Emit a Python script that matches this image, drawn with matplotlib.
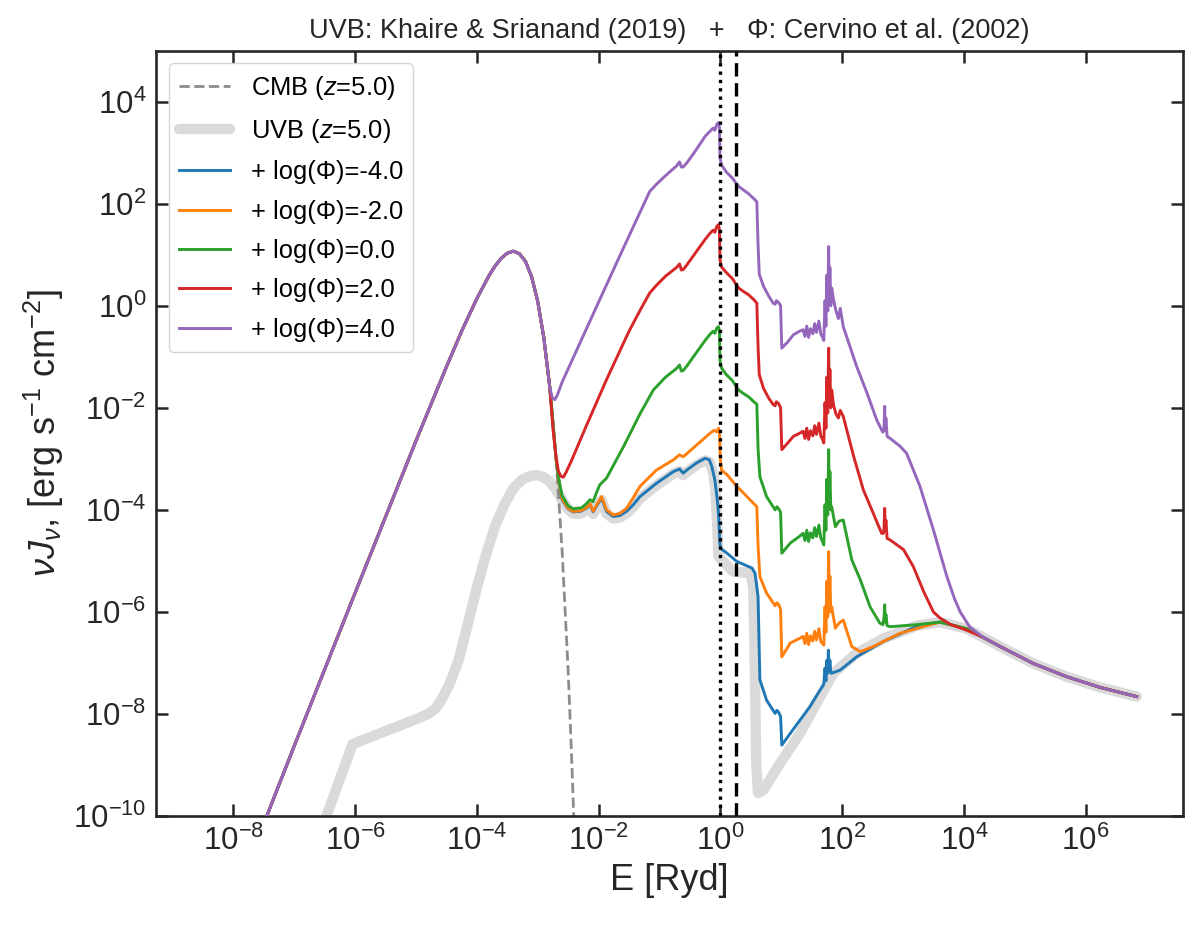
import numpy as np
import matplotlib
matplotlib.use('Agg')
import matplotlib.pyplot as plt
from matplotlib.ticker import NullLocator

plt.rcParams['font.family'] = ['Liberation Sans', 'DejaVu Sans']
plt.rcParams['mathtext.fontset'] = 'custom'
plt.rcParams['mathtext.rm'] = 'Liberation Sans'
plt.rcParams['mathtext.it'] = 'Liberation Sans:italic'
plt.rcParams['mathtext.bf'] = 'Liberation Sans:bold'

# ---------------- data (log10 E [Ryd], log10 nuJnu) ----------------
CMB_LOGE = [-8.5, -7.45, -7.0, -6.0, -5.5, -5.0, -4.5, -4.25, -4.0, -3.8, -3.7, -3.6,
            -3.5, -3.4, -3.3, -3.2, -3.1, -3.0, -2.9, -2.8, -2.7, -2.6, -2.5, -2.45, -2.4]
CMB_LOGY = [-13.14, -10.0, -8.63, -5.63, -4.14, -2.65, -1.20, -0.50, 0.14, 0.59, 0.78, 0.93,
            1.03, 1.07, 1.02, 0.87, 0.57, 0.09, -0.62, -1.61, -2.97, -4.77, -7.14, -8.61, -10.26]

UVB_LOGE = [-6.8, -6.47, -6.04, -4.95, -4.8, -4.68, -4.58, -4.45, -4.3, -4.15, -4.0, -3.85,
            -3.7, -3.55, -3.4, -3.25, -3.1, -3.0, -2.9, -2.8, -2.7, -2.6, -2.5, -2.42, -2.31,
            -2.2, -2.14, -2.09, -2.03, -1.95, -1.87, -1.76, -1.65, -1.54, -1.43, -1.32, -1.05,
            -0.77, -0.67, -0.61, -0.55, -0.39, -0.25, -0.18, -0.12, -0.08, -0.05, -0.03, 0.0,
            0.21, 0.49, 0.54, 0.56, 0.57, 0.59, 0.62, 0.71, 0.98, 1.31, 1.58, 1.86, 2.24, 2.68,
            3.23, 3.61, 4.05]
UVB_LOGY = [-11.1, -10.0, -8.59, -8.08, -8.0, -7.9, -7.72, -7.42, -6.95, -6.25, -5.53, -4.88,
            -4.32, -3.90, -3.58, -3.40, -3.33, -3.32, -3.36, -3.45, -3.60, -3.80, -3.99, -4.07,
            -4.08, -4.01, -3.94, -4.08, -3.96, -3.81, -4.07, -4.17, -4.15, -4.07, -3.94, -3.78,
            -3.52, -3.29, -3.24, -3.32, -3.26, -3.12, -3.03, -3.06, -3.25, -3.6, -4.3, -4.9,
            -4.95, -5.21, -5.24, -5.50, -6.5, -7.33, -8.97, -9.55, -9.49, -8.97, -8.38, -7.79,
            -7.20, -6.81, -6.52, -6.27, -6.20, -6.33]

TAIL_LOGE = [4.60, 5.14, 5.69, 6.24, 6.84]
TAIL_LOGY = [-6.68, -7.01, -7.27, -7.48, -7.66]

# log(Phi) = -4 (departs from CMB at log E = -2.7)
P_M4_LOGE = [-2.66, -2.6, -2.5, -2.42, -2.30, -2.2, -2.14, -2.09, -2.03, -1.95, -1.87, -1.76,
             -1.65, -1.54, -1.43, -1.32, -1.05, -0.77, -0.67, -0.61, -0.55, -0.39, -0.25, -0.18,
             -0.14, -0.09, -0.05, -0.03, -0.01, 0.0, 0.11, 0.27, 0.46, 0.52, 0.57, 0.62, 0.65,
             0.76, 0.90, 0.93, 0.96, 0.99, 1.01, 1.15, 1.31, 1.47, 1.64, 1.70, 1.72, 1.735,
             1.75, 1.765, 1.775, 1.79, 1.80, 1.815, 1.83, 1.97, 2.24, 2.68, 3.23, 3.61, 4.05]
P_M4_LOGY = [-3.40, -3.80, -3.98, -4.04, -4.03, -3.97, -3.90, -4.04, -3.92, -3.77, -4.03, -4.13,
             -4.11, -4.03, -3.90, -3.74, -3.48, -3.25, -3.20, -3.28, -3.22, -3.08, -2.99, -3.02,
             -3.15, -3.41, -3.8, -4.06, -4.6, -4.75, -4.85, -5.01, -5.11, -5.14, -5.24, -5.70, -7.33,
             -7.73, -7.99, -7.93, -7.97, -8.05, -8.61, -8.38, -8.12, -7.86, -7.53, -7.42, -7.1, -7.35,
             -6.95, -7.2, -6.75, -7.15, -6.95, -7.2, -7.20, -7.14, -6.88, -6.58, -6.28, -6.20, -6.33]

# log(Phi) = -2
P_M2_LOGE = [-2.66, -2.6, -2.5, -2.42, -2.30, -2.2, -2.14, -2.09, -2.03, -1.95, -1.87, -1.76,
             -1.65, -1.54, -1.43, -1.32, -1.05, -0.77, -0.67, -0.61, -0.55, -0.39, -0.17, -0.1,
             -0.06, -0.03, -0.015, 0.0, 0.02, 0.11, 0.27, 0.38, 0.60, 0.62, 0.65, 0.76, 0.90,
             0.93, 0.96, 0.99, 1.01, 1.15, 1.3, 1.36, 1.39, 1.42, 1.45, 1.48, 1.52, 1.55, 1.58,
             1.62, 1.65, 1.68, 1.70, 1.72, 1.735, 1.75, 1.765, 1.78, 1.79, 1.80, 1.815, 1.83,
             1.89, 1.95, 2.02, 2.16, 2.30, 2.51, 2.95, 3.39, 3.61, 4.05]
P_M2_LOGY = [-3.38, -3.78, -3.97, -4.03, -4.02, -3.96, -3.88, -4.03, -3.90, -3.74, -4.0, -4.10,
             -4.07, -3.97, -3.76, -3.54, -3.22, -3.02, -2.92, -2.96, -2.90, -2.73, -2.50, -2.44,
             -2.47, -2.40, -2.48, -3.0, -3.22, -3.31, -3.54, -3.67, -3.94, -4.7, -5.31, -5.63, -5.88,
             -5.82, -5.86, -5.95, -6.88, -6.61, -6.52, -6.48, -6.62, -6.42, -6.64, -6.47, -6.57,
             -6.38, -6.55, -6.33, -6.58, -6.62, -6.65, -5.9, -6.4, -5.4, -6.1, -4.82, -5.8, -5.3,
             -6.0, -5.90, -6.32, -6.22, -6.16, -6.68, -6.78, -6.68, -6.42, -6.27, -6.20, -6.33]

# log(Phi) = 0
P_0_LOGE = [-2.66, -2.6, -2.5, -2.42, -2.28, -2.2, -2.14, -2.09, -2.03, -1.98, -1.87, -1.59,
            -1.32, -1.1, -0.9, -0.72, -0.67, -0.64, -0.61, -0.55, -0.4, -0.25, -0.17, -0.12,
            -0.09, -0.06, -0.03, -0.015, -0.005, 0.02, 0.1, 0.2, 0.26, 0.30, 0.38, 0.46, 0.55,
            0.60, 0.62, 0.65, 0.76, 0.90, 0.93, 0.96, 0.99, 1.01, 1.15, 1.3, 1.36, 1.39, 1.42,
            1.45, 1.48, 1.52, 1.55, 1.58, 1.62, 1.65, 1.68, 1.70, 1.72, 1.735, 1.75, 1.765,
            1.78, 1.79, 1.80, 1.815, 1.83, 1.89, 1.95, 2.02, 2.16, 2.30, 2.46, 2.62, 2.67,
            2.69, 2.70, 2.71, 2.72, 2.74, 2.79, 3.23, 3.61, 4.05]
P_0_LOGY = [-3.35, -3.72, -3.92, -3.98, -3.96, -3.88, -3.80, -3.84, -3.65, -3.51, -3.38, -2.76,
            -2.12, -1.65, -1.40, -1.23, -1.16, -1.28, -1.27, -1.18, -0.93, -0.68, -0.56, -0.50,
            -0.54, -0.44, -0.41, -0.48, -1.08, -1.22, -1.35, -1.47, -1.58, -1.65, -1.72, -1.78,
            -1.88, -1.93, -2.8, -3.35, -3.74, -4.0, -3.94, -3.98, -4.05, -4.85, -4.65, -4.52,
            -4.46, -4.60, -4.40, -4.62, -4.45, -4.55, -4.35, -4.52, -4.30, -4.55, -4.62, -4.69,
            -3.9, -4.4, -3.4, -4.1, -2.82, -3.8, -3.25, -4.0, -3.94, -4.33, -4.22, -4.20, -4.98,
            -5.37, -5.90, -6.22, -6.25, -6.1, -5.86, -6.2, -6.05, -6.27, -6.29, -6.25, -6.20, -6.33]

# log(Phi) = 2 (departs from CMB at log E = -2.8)
P_2_LOGE = [-2.75, -2.70, -2.66, -2.62, -2.58, -2.54, -2.45, -2.2, -1.87, -1.5, -1.3, -1.16,
            -1.05, -0.9, -0.72, -0.67, -0.64, -0.61, -0.55, -0.4, -0.25, -0.17, -0.12, -0.09,
            -0.06, -0.03, -0.015, -0.005, 0.02, 0.1, 0.2, 0.26, 0.30, 0.38, 0.46, 0.55, 0.60,
            0.62, 0.64, 0.71, 0.80, 0.87, 0.90, 0.92, 0.96, 0.99, 1.01, 1.1, 1.2, 1.3, 1.36,
            1.39, 1.42, 1.45, 1.48, 1.52, 1.55, 1.58, 1.62, 1.65, 1.68, 1.70, 1.72, 1.735, 1.75,
            1.765, 1.78, 1.79, 1.80, 1.815, 1.83, 1.86, 1.90, 1.94, 1.97, 2.02, 2.19, 2.35,
            2.51, 2.65, 2.68, 2.69, 2.70, 2.71, 2.72, 2.74, 2.79, 3.01, 3.17, 3.34, 3.50, 3.61,
            3.77, 4.05, 4.32]
P_2_LOGY = [-2.4, -2.95, -3.24, -3.34, -3.36, -3.28, -3.05, -2.35, -1.45, -0.5, -0.05, 0.25,
            0.40, 0.58, 0.75, 0.82, 0.70, 0.71, 0.80, 1.05, 1.30, 1.42, 1.48, 1.44, 1.55, 1.59,
            1.50, 0.90, 0.76, 0.65, 0.53, 0.42, 0.35, 0.28, 0.22, 0.12, 0.05, -0.8, -1.35,
            -1.62, -1.82, -1.94, -1.96, -1.88, -1.92, -2.0, -2.82, -2.70, -2.56, -2.50, -2.46,
            -2.60, -2.40, -2.62, -2.45, -2.55, -2.35, -2.52, -2.30, -2.55, -2.62, -2.69, -1.9,
            -2.4, -1.4, -2.1, -0.83, -1.8, -1.25, -2.0, -1.65, -1.95, -2.12, -2.2, -2.05, -2.17,
            -2.95, -3.61, -4.06, -4.46, -4.46, -4.35, -3.97, -4.40, -4.2, -4.56, -4.59, -4.78,
            -5.11, -5.6, -6.0, -6.12, -6.24, -6.36, -6.50]

# log(Phi) = 4 (departs from CMB at log E = -2.8)
P_4_LOGE = [-2.76, -2.72, -2.68, -2.6, -2.0, -1.6, -1.3, -1.16, -1.05, -0.9, -0.72, -0.67,
            -0.64, -0.61, -0.55, -0.4, -0.25, -0.17, -0.12, -0.09, -0.06, -0.03, -0.015, -0.005,
            0.02, 0.1, 0.2, 0.26, 0.30, 0.38, 0.46, 0.55, 0.60, 0.62, 0.64, 0.71, 0.80, 0.87,
            0.90, 0.92, 0.96, 0.99, 1.01, 1.1, 1.2, 1.3, 1.36, 1.39, 1.42, 1.45, 1.48, 1.52,
            1.55, 1.58, 1.62, 1.65, 1.68, 1.70, 1.72, 1.735, 1.75, 1.765, 1.78, 1.79, 1.80,
            1.815, 1.83, 1.86, 1.90, 1.94, 1.97, 2.02, 2.24, 2.41, 2.57, 2.67, 2.69, 2.70, 2.71,
            2.72, 2.74, 2.79, 2.95, 3.06, 3.28, 3.50, 3.72, 3.85, 3.94, 4.10, 4.32]
P_4_LOGY = [-1.80, -1.84, -1.76, -1.5, 0.07, 1.11, 1.88, 2.24, 2.38, 2.55, 2.74, 2.82,
            2.72, 2.72, 2.80, 3.05, 3.32, 3.42, 3.48, 3.44, 3.55, 3.59, 3.50, 2.90,
            2.76, 2.62, 2.50, 2.40, 2.34, 2.27, 2.20, 2.10, 2.04, 1.2, 0.62, 0.38, 0.18, 0.05,
            0.03, 0.10, 0.06, 0.0, -0.83, -0.72, -0.57, -0.50, -0.47, -0.60, -0.40, -0.62, -0.45,
            -0.55, -0.35, -0.52, -0.30, -0.55, -0.62, -0.68, 0.1, -0.4, 0.6, -0.1, 1.16, 0.2,
            0.75, 0.0, 0.35, 0.12, -0.10, -0.25, -0.05, -0.41, -1.19, -1.71, -2.24, -2.48, -2.40,
            -1.97, -2.45, -2.2, -2.56, -2.60, -2.75, -2.89, -3.54, -4.39, -5.3, -5.75, -6.0,
            -6.3, -6.5]

CMB_SPLIT = {-4: -2.7, -2: -2.7, 0: -2.7, 2: -2.8, 4: -2.8}
PHI_VALUES = [-4, -2, 0, 2, 4]
PHI_LABELS = ['+ log(Φ)=-4.0', '+ log(Φ)=-2.0', '+ log(Φ)=0.0', '+ log(Φ)=2.0', '+ log(Φ)=4.0']
PHI_COLORS = ['#1f77b4', '#ff7f0e', '#2ca02c', '#d62728', '#9467bd']
PHI_DATA = {-4: (P_M4_LOGE, P_M4_LOGY), -2: (P_M2_LOGE, P_M2_LOGY), 0: (P_0_LOGE, P_0_LOGY),
            2: (P_2_LOGE, P_2_LOGY), 4: (P_4_LOGE, P_4_LOGY)}

E_HI = 1.0      # Ryd
E_HEI = 1.807   # Ryd


def build(split, own_x, own_y):
    cx = np.array(CMB_LOGE)
    cy = np.array(CMB_LOGY)
    m = cx <= split + 1e-9
    x = np.concatenate([cx[m], own_x, TAIL_LOGE])
    y = np.concatenate([cy[m], own_y, TAIL_LOGY])
    return 10.0 ** x, 10.0 ** y


fig = plt.figure(figsize=(12, 9.26), dpi=100)
ax = fig.add_axes([0.130, 0.1188, 0.8558, 0.8265])
ax.set_xscale('log')
ax.set_yscale('log')

ax.plot(10.0 ** np.array(CMB_LOGE), 10.0 ** np.array(CMB_LOGY), ls='--', color='#8c8c8c',
        lw=2.0, zorder=2, label=r'CMB ($z$=5.0)')
ux = np.concatenate([UVB_LOGE, TAIL_LOGE])
uy = np.concatenate([UVB_LOGY, TAIL_LOGY])
ax.plot(10.0 ** ux, 10.0 ** uy, color='#dadada', lw=7.5, solid_capstyle='round',
        solid_joinstyle='round', zorder=1, label=r'UVB ($z$=5.0)')

for phi, lab, col in zip(PHI_VALUES, PHI_LABELS, PHI_COLORS):
    ox, oy = PHI_DATA[phi]
    x, y = build(CMB_SPLIT[phi], ox, oy)
    ax.plot(x, y, color=col, lw=2.1, zorder=3, label=lab)

ax.axvline(E_HI, color='black', ls=(0, (1, 1.5)), lw=2.4, zorder=4)
ax.axvline(E_HEI, color='black', ls=(0, (4, 2)), lw=2.4, zorder=4)

ax.set_xlim(10 ** -9.27, 10 ** 7.60)
ax.set_ylim(1e-10, 1e5)
ax.set_xticks(10.0 ** np.arange(-8, 7, 2))
ax.set_yticks(10.0 ** np.arange(-10, 5, 2))
ax.xaxis.set_minor_locator(NullLocator())
ax.yaxis.set_minor_locator(NullLocator())

dark = '#262626'
for s in ax.spines.values():
    s.set_linewidth(1.9)
    s.set_color(dark)
ax.tick_params(which='major', direction='in', length=8.5, width=1.8, color=dark,
               labelsize=22.5, labelcolor=dark, top=True, right=True, pad=7)

ax.set_xlabel('E [Ryd]', fontsize=26, color=dark, labelpad=4)
ax.set_ylabel(r'$\nu J_\nu$, [erg s$^{-1}$ cm$^{-2}$]', fontsize=26, color=dark, labelpad=5)
ax.set_title('UVB: Khaire & Srianand (2019)   +   Φ: Cervino et al. (2002)', fontsize=19.5,
             color=dark, pad=9)

leg = ax.legend(loc='upper left', fontsize=18.4, frameon=True, fancybox=True,
                edgecolor='#cccccc', framealpha=0.8, handlelength=2.0, handletextpad=0.8,
                borderpad=0.4, labelspacing=0.6)

fig.savefig('out.png', dpi=100)
